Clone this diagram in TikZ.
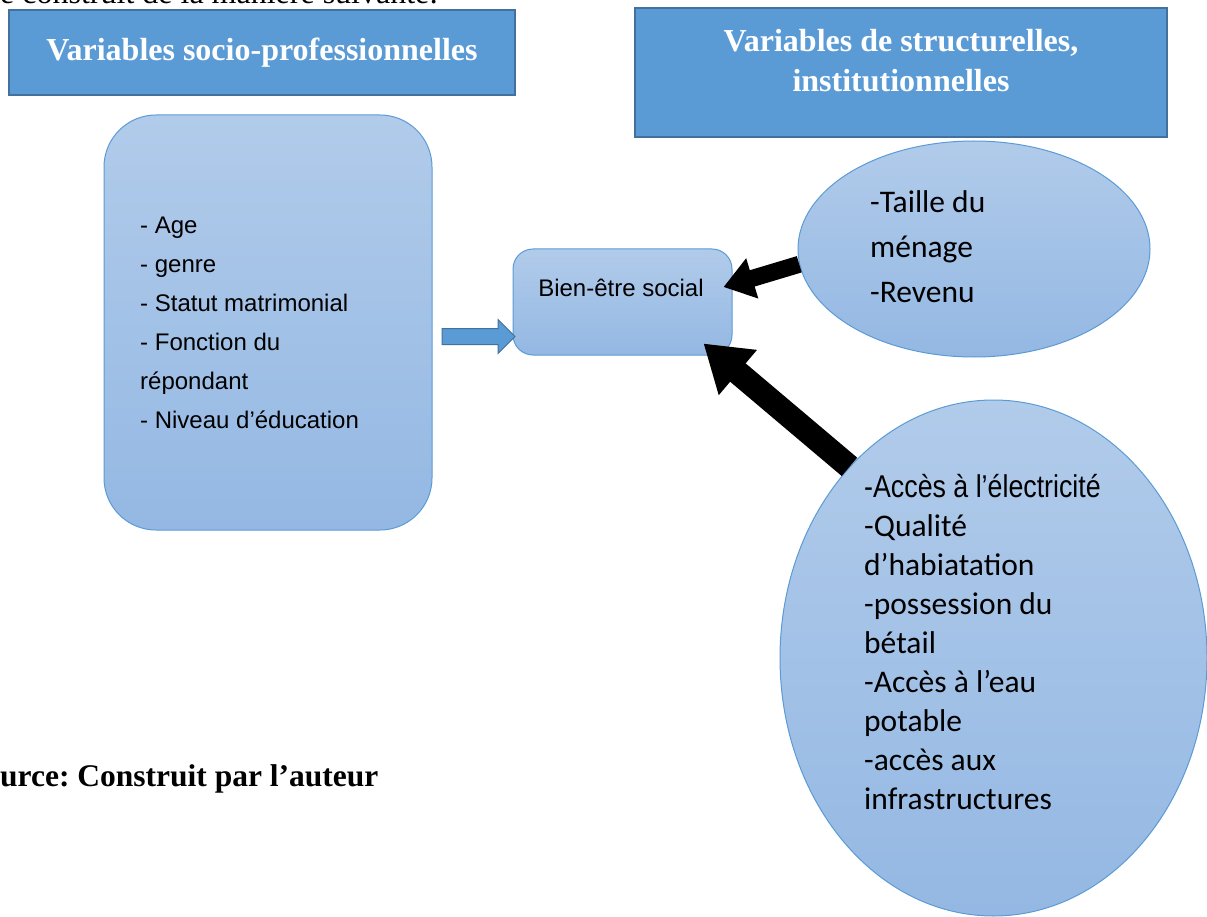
\documentclass[tikz,border=0pt]{standalone}
\usepackage{fontspec}
\setmainfont{Liberation Serif}
\newfontfamily\arialfont{Liberation Sans}
\newfontfamily\calibrifont{Carlito}
\newfontfamily\narrowfont[FakeStretch=0.85]{Liberation Sans}
\usetikzlibrary{shapes.geometric,shapes.arrows,arrows.meta}

\definecolor{wordblue}{RGB}{91,155,213}
\definecolor{wordedge}{RGB}{65,113,156}
\definecolor{lighttop}{RGB}{177,203,234}
\definecolor{lightbot}{RGB}{148,184,227}

\begin{document}
\frenchspacing
\begin{tikzpicture}[x=1pt,y=-1pt,
  titlebox/.style={draw=wordedge, line width=2pt, fill=wordblue, inner sep=0pt},
  softbox/.style={draw=wordblue, line width=1pt, top color=lighttop, bottom color=lightbot, inner sep=0pt},
  plaintext/.style={inner sep=0pt, align=left, anchor=base west}]
\useasboundingbox (0,0) rectangle (1207,917);
\clip (0,0) rectangle (1207,917);

\node[plaintext, font=\fontsize{32}{40}\selectfont] (intro) at (0,4) {e construit de la manière suivante:};

% headers
\node[titlebox, minimum width=506pt, minimum height=85pt, text=white,
  font=\bfseries\fontsize{32}{40}\selectfont] (sociotitle) at (262,52.5) {Variables socio-professionnelles};
\node[titlebox, minimum width=532pt, minimum height=129pt] (structtitle) at (901,72.5) {};
\node[inner sep=0pt, anchor=base, align=center, text=white,
  font=\bfseries\fontsize{32}{40}\selectfont] (structtext) at (901,92) {Variables de structurelles,\\institutionnelles};

% boxes and bubbles
\node[softbox, rounded corners=52pt, minimum width=328pt, minimum height=415pt] (socio) at (268,322.5) {};
\node[softbox, rounded corners=20pt, minimum width=219pt, minimum height=106pt] (bien) at (622.5,302) {};
\node[softbox, ellipse, minimum width=352pt, minimum height=216pt] (menage) at (974,249) {};
\node[softbox, ellipse, minimum width=427pt, minimum height=516pt] (acces) at (993.5,658) {};

\node[single arrow, draw=wordedge, fill=wordblue, line width=1pt, minimum height=73pt,
  minimum width=33pt, inner xsep=0pt, inner ysep=7.5pt, single arrow head extend=9pt] (push) at (474.5,336.5) {};

\draw[line width=17pt, -{Triangle[length=30pt,width=40pt]}]
  (menage.185) -- ([xshift=-9pt,yshift=15pt]bien.east);
\draw[line width=24pt, -{Triangle[length=45pt,width=56pt]}]
  (acces.127) -- ([xshift=-29pt,yshift=12pt]bien.south east);

% texts (base = last line)
\node[plaintext, font=\arialfont\fontsize{24}{39}\selectfont] (sociolist) at (140,428)
  {- Age\\- genre\\- Statut matrimonial\\- Fonction du\\répondant\\- Niveau d’éducation};
\node[inner sep=0pt, anchor=base, font=\arialfont\fontsize{24}{30}\selectfont] (bientext) at (621,297) {Bien-être social};
\node[plaintext, font=\calibrifont\fontsize{31.5}{45}\selectfont] (menagelist) at (870,302)
  {-Taille du\\ménage\\-Revenu};
\node[plaintext, font=\calibrifont\fontsize{31.5}{39}\selectfont] (acceslist) at (864,809)
  {{\narrowfont -Accès à l’électricité}\\-Qualité\\d’habiatation\\-possession du\\bétail\\-Accès à l’eau\\potable\\-accès aux\\infrastructures};

\node[plaintext, font=\bfseries\fontsize{31.5}{38}\selectfont] (source) at (0,786) {urce: Construit par l’auteur};
\end{tikzpicture}
\end{document}
